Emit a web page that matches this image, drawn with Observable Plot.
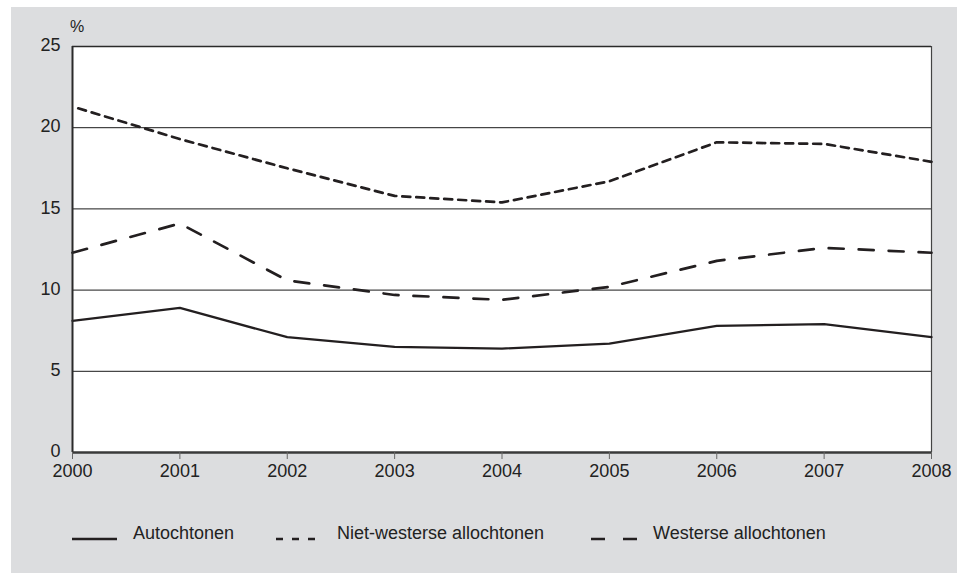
<!DOCTYPE html>
<html>
<head>
<meta charset="utf-8">
<script src="https://cdn.jsdelivr.net/npm/d3@7"></script>
<script src="https://cdn.jsdelivr.net/npm/@observablehq/plot@0.6"></script>
<style>
  html, body { margin: 0; padding: 0; background: #ffffff; }
  #wrap { position: relative; width: 966px; height: 580px; overflow: hidden; font-family: "Liberation Sans", Arial, sans-serif; }
  #panel { position: absolute; left: 11px; top: 7px; width: 946px; height: 566px; background: #dcdddf; }
  #chart { position: absolute; left: 0; top: 0; }
  #unit { position: absolute; left: 70px; top: 18px; font-size: 16px; color: #222; line-height: 18px; }
  #legend { position: absolute; left: 0; top: 490px; }
</style>
</head>
<body>
<div id="wrap">
  <div id="panel"></div>
  <div id="chart"></div>
  <div id="unit">%</div>
  <div id="legend"></div>
</div>
<script>
const years = [2000, 2001, 2002, 2003, 2004, 2005, 2006, 2007, 2008];
const autochtonen = [8.1, 8.9, 7.1, 6.5, 6.4, 6.7, 7.8, 7.9, 7.1];
const nietWesterse = [21.3, 19.3, 17.5, 15.8, 15.4, 16.7, 19.1, 19.0, 17.9];
const westerse = [12.3, 14.1, 10.6, 9.7, 9.4, 10.2, 11.8, 12.6, 12.3];
const yTicks = [0, 5, 10, 15, 20, 25];
const gridValues = [5, 10, 15, 20];
const seriesNames = ["Autochtonen", "Niet-westerse allochtonen", "Westerse allochtonen"];

const toRows = (vals) => years.map((y, i) => ({year: y, value: vals[i]}));
const ink = "#231f20";

const chart = Plot.plot({
  width: 966,
  height: 490,
  marginLeft: 72,
  marginRight: 35,
  marginTop: 46,
  marginBottom: 38,
  style: {background: "transparent", fontFamily: "Liberation Sans, Arial, sans-serif", color: "#222"},
  x: {domain: [2000, 2008]},
  y: {domain: [0, 25]},
  marks: [
    Plot.frame({fill: "white", stroke: null}),
    Plot.ruleY(gridValues, {stroke: "#1a1a1a", strokeWidth: 1}),
    Plot.ruleY([25], {stroke: "#2a2a2a", strokeWidth: 1.6}),
    Plot.ruleX([2008], {stroke: "#444", strokeWidth: 1.2}),
    Plot.line(toRows(autochtonen), {x: "year", y: "value", stroke: ink, strokeWidth: 2.3}),
    Plot.line(toRows(nietWesterse), {x: "year", y: "value", stroke: ink, strokeWidth: 2.7, strokeDasharray: "8,6", strokeDashoffset: -6}),
    Plot.line(toRows(westerse), {x: "year", y: "value", stroke: ink, strokeWidth: 2.7, strokeDasharray: "15,15"}),
    Plot.ruleX([2000], {stroke: "#2a2a2a", strokeWidth: 2}),
    Plot.ruleY([0], {stroke: "#3a3a3a", strokeWidth: 2.5}),
    Plot.axisX({ticks: years, tickFormat: d => String(d), tickSize: 7, tickPadding: 5, fontSize: 18, stroke: "#666", fill: "#222", label: null}),
    Plot.axisY({ticks: yTicks, tickSize: 0, tickPadding: 12, fontSize: 18, fill: "#222", label: null, dy: -1})
  ]
});
document.getElementById("chart").appendChild(chart);

// Legend (below the chart SVG)
const legendItems = [
  {name: seriesNames[0], dash: null, width: 2.6, x0: 72, x1: 117, tx: 133},
  {name: seriesNames[1], dash: "7,9", width: 2.6, x0: 276, x1: 316, tx: 337},
  {name: seriesNames[2], dash: "14,18", width: 2.6, x0: 591, x1: 637, tx: 653}
];
const ns = "http://www.w3.org/2000/svg";
const lsvg = document.createElementNS(ns, "svg");
lsvg.setAttribute("width", 966);
lsvg.setAttribute("height", 90);
lsvg.setAttribute("font-family", "Liberation Sans, Arial, sans-serif");
const by = 49;
for (const it of legendItems) {
  const ln = document.createElementNS(ns, "line");
  ln.setAttribute("x1", it.x0); ln.setAttribute("x2", it.x1);
  ln.setAttribute("y1", by); ln.setAttribute("y2", by);
  ln.setAttribute("stroke", ink);
  ln.setAttribute("stroke-width", it.width);
  if (it.dash) ln.setAttribute("stroke-dasharray", it.dash);
  lsvg.appendChild(ln);
  const t = document.createElementNS(ns, "text");
  t.setAttribute("x", it.tx); t.setAttribute("y", by);
  t.setAttribute("font-size", 18);
  t.setAttribute("fill", "#222");
  t.textContent = it.name;
  lsvg.appendChild(t);
}
document.getElementById("legend").appendChild(lsvg);
</script>
</body>
</html>
